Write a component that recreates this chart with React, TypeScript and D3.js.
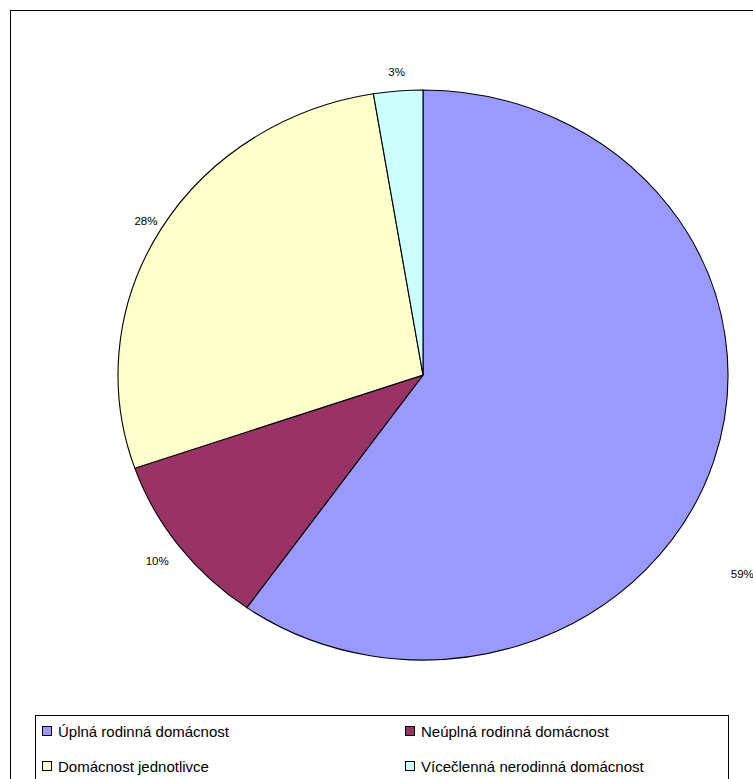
import React from 'react';
import * as d3 from 'd3';

const categories = ['Úplná rodinná domácnost', 'Neúplná rodinná domácnost', 'Domácnost jednotlivce', 'Vícečlenná nerodinná domácnost'];
const values = [59.8, 9.9, 27.7, 2.6];
const labels = ['59%', '10%', '28%', '3%'];
const colors = ['#9999ff', '#993366', '#ffffcc', '#ccffff'];
// Excel places the big slice's label lower than its mid-angle
const labelShift = [[0, 107], [4, 4], [12, 1], [0, -1]];

const cx = 423, cy = 375, rx = 305, ry = 285;

export default function App() {
  const pie = d3.pie<number>().sort(null)(values);
  const arc = d3.arc<d3.PieArcDatum<number>>().innerRadius(0).outerRadius(rx);
  const legendPos = [[42, 737], [405, 737], [42, 772], [405, 772]];
  return (
    <svg width={753} height={779} style={{ position: 'absolute', left: 0, top: 0 }} fontFamily="Arial, 'Liberation Sans', sans-serif">
      <rect x={0} y={0} width={753} height={779} fill="#fff" />
      <rect x={10.5} y={10.5} width={800} height={800} fill="none" stroke="#000" />
      <g transform={`translate(${cx},${cy}) scale(1,${ry / rx})`}>
        {pie.map((p, i) => (
          <path key={i} d={arc(p) ?? ''} fill={colors[i]} stroke="#000" strokeWidth={1.1} vectorEffect="non-scaling-stroke" />
        ))}
      </g>
      {pie.map((p, i) => {
        const a = (p.startAngle + p.endAngle) / 2;
        const s = Math.sin(a), c = Math.cos(a);
        const x = cx + (rx + 18) * s + labelShift[i][0];
        const y = cy - (ry + 18) * c + 4 + labelShift[i][1];
        return (
          <text key={i} x={x} y={y} fontSize={11.5} textAnchor={s > 0.3 ? 'start' : s < -0.3 ? 'end' : 'middle'}>{labels[i]}</text>
        );
      })}
      <rect x={35.5} y={715.5} width={693} height={100} fill="#fff" stroke="#000" />
      {categories.map((name, i) => (
        <g key={i}>
          <rect x={legendPos[i][0] + 0.5} y={legendPos[i][1] - 10.5} width={9} height={9} fill={colors[i]} stroke="#000" />
          <text x={legendPos[i][0] + 16} y={legendPos[i][1]} fontSize={15}>{name}</text>
        </g>
      ))}
    </svg>
  );
}
